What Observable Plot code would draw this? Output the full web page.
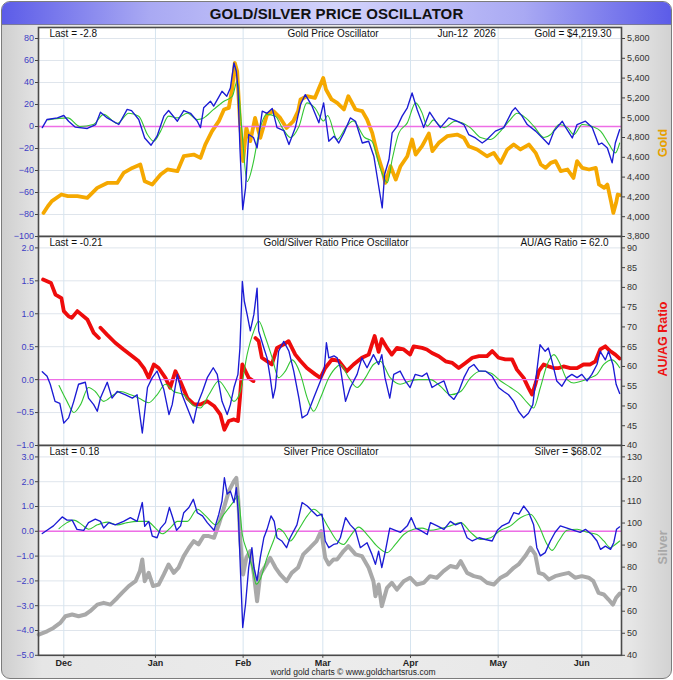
<!DOCTYPE html>
<html>
<head>
<meta charset="utf-8">
<script src="https://cdn.jsdelivr.net/npm/d3@7"></script>
<script src="https://cdn.jsdelivr.net/npm/@observablehq/plot@0.6"></script>
<style>
  html, body { margin: 0; padding: 0; background: #ffffff; }
  #chart { position: relative; width: 673px; height: 680px; font-family: "Liberation Sans", Arial, sans-serif; }
  #outer { position: absolute; left: 1px; top: 1px; width: 669px; height: 676px; border: 1.5px solid #7c7c7c; border-radius: 9px;
    background: linear-gradient(to right, #cfcfcf 0%, #e6e6e6 6%, #ececec 50%, #e6e6e6 94%, #d2d2d2 100%); overflow: hidden; }
  #titlebar { position: absolute; left: 0; top: 0; width: 100%; height: 22px; border-bottom: 1px solid #7a7a9a;
    background: linear-gradient(to right, #5c5ce8 0%, #a9a9f3 22%, #d3d3fb 50%, #a9a9f3 78%, #5c5ce8 100%);
    text-align: center; font-weight: bold; font-size: 15px; line-height: 23px; color: #111; letter-spacing: 0.1px; }
  .panel { position: absolute; left: 0; }
  #caption { position: absolute; top: 667px; left: 0; width: 706px; text-align: center; font-size: 8.5px; color: #222; }
</style>
</head>
<body>
<div id="chart">
  <div id="outer"><div id="titlebar"></div></div>
  <div id="p1" class="panel" style="top:26.5px"></div>
  <div id="p2" class="panel" style="top:235.5px"></div>
  <div id="p3" class="panel" style="top:444.5px"></div>
  <div id="caption"></div>
</div>
<script>
// ---------- text ----------
const chartTitle = "GOLD/SILVER PRICE OSCILLATOR";
const captionText = "world gold charts © www.goldchartsrus.com";
const dateText = "Jun-12\u00a0\u00a02026";
const panelTitles = ["Gold Price Oscillator", "Gold/Silver Ratio Price Oscillator", "Silver Price Oscillator"];
const lastTexts = ["Last = -2.8", "Last = -0.21", "Last = 0.18"];
const valueTexts = ["Gold = $4,219.30", "AU/AG Ratio = 62.0", "Silver = $68.02"];
const axisTitles = ["Gold", "AU/AG Ratio", "Silver"];

// ---------- time axis (trading-day index, 0 = Dec 1 2025) ----------
const monthDays = [0, 23, 45, 65, 87, 109, 130];
const monthLabels = ["Dec", "Jan", "Feb", "Mar", "Apr", "May", "Jun"];

// ---------- tick values ----------
const goldOscTicks = [-100, -80, -60, -40, -20, 0, 20, 40, 60, 80];
const goldPriceTicks = [3800, 4000, 4200, 4400, 4600, 4800, 5000, 5200, 5400, 5600, 5800];
const ratioOscTicks = [-1.0, -0.5, 0.0, 0.5, 1.0, 1.5, 2.0];
const ratioTicks = [40, 45, 50, 55, 60, 65, 70, 75, 80, 85, 90];
const silverOscTicks = [-5, -4, -3, -2, -1, 0, 1, 2, 3];
const silverPriceTicks = [40, 50, 60, 70, 80, 90, 100, 110, 120, 130];

// ---------- series: [trading day, value] ----------
const goldOsc = [[-5.4,-1],[-4.2,6.4],[-1.6,7.8],[0,10],[1.2,4.8],[2.9,-0.6],[5.9,-1.8],[8,1.8],[9.2,13],[10.9,7.8],[13.8,1.8],[15.9,15.5],[17,14.5],[18.8,6.4],[20.3,-10.4],[21.9,-17],[23.4,-8.8],[25.1,9.4],[26.3,14.5],[28.5,4.8],[30.1,14.5],[31.8,12],[33.5,4.8],[34.3,-1],[35.1,17],[36.8,23],[37.6,18.5],[39.7,32],[40.9,27.5],[41.8,35],[42.7,57.8],[43.3,50],[43.7,35],[44.2,-19.5],[44.9,-75.5],[45.6,-56],[46.4,-7.3],[47.6,-10],[48.5,-19.5],[49.8,14],[51,12],[52.3,16.4],[53.5,-1],[55.2,-3.7],[56.5,-16.4],[58.1,-1],[59.4,20],[60.6,29],[62.3,18.5],[64,3.3],[65.2,21.5],[66.5,-13.4],[67.8,-8.8],[69,-15],[70.3,-5.8],[71.9,7.8],[73.2,4.8],[74.9,-15],[76.5,-13.4],[77.8,-27],[78.6,-45],[79.9,-74],[80.5,-43.6],[81.6,-30],[82.4,-5.8],[83.7,0.3],[84.9,9.4],[86.2,17],[87.4,30.5],[88.7,15],[89.9,3.3],[90.3,-1],[91.8,13],[93.3,4.8],[94.5,-1],[96.6,7.8],[98.7,4.8],[100.4,1.8],[101.6,-7.3],[103.3,-10.4],[105,-15],[106.2,-11.8],[108.3,-4.2],[110.4,-1],[112.5,14],[113.3,17],[115,9.4],[116.3,1.8],[118.4,-4.2],[120.5,-11.8],[121.7,-16.4],[123,-4.2],[125.1,4.8],[125.9,-0.6],[127.6,-10.4],[128.8,1.8],[130.9,4.8],[132.6,-1],[134.2,-16.4],[135,-15],[136.4,-19.5],[137.6,-33],[138.4,-15],[139.5,-2.8]];
const goldSignal = [[-4,6],[1,7.8],[4,0],[7.4,1.8],[10,11],[13.4,2.8],[16.3,12],[18.8,9.4],[21,-7.3],[22.6,-13.4],[24.3,-4.2],[26.3,9.4],[28.5,7.8],[31,12],[33.5,6.4],[35.1,7.8],[37.6,15.5],[40.2,23],[42.3,27.5],[43.5,41],[44.7,-4],[46,-50],[47.6,-32],[48.9,-7],[51,11],[53.1,9.4],[54.8,-1],[56.9,-10],[59,0],[61,21.5],[63,17],[65.2,5],[66.2,10],[68.6,-11.8],[71,0.3],[72.6,5],[75.5,-10],[77.3,-13.4],[79.5,-39],[81.2,-51],[82.4,-30],[84.1,-5.8],[86.2,3.3],[88.3,21.5],[89.9,12.4],[91.2,0.3],[92.8,6],[94,1.8],[95.5,-1],[98.2,4.8],[102,-1],[104.6,-10],[107.1,-11.8],[109.6,-4.2],[111.7,4.8],[113.8,12],[115.9,7.8],[118,0],[120.5,-10],[122.2,-7.3],[124.3,1.8],[126.4,-1],[128,-7.3],[130.1,1.8],[132.6,0],[134.7,-4.2],[136.8,-16],[138.4,-24],[139.5,-15]];
const goldPrice = [[-5.1,4038],[-4,4106],[-3,4157],[-0.6,4224],[1,4207],[3.4,4207],[5.9,4190],[8.4,4291],[10.9,4341],[13.4,4341],[15,4442],[17.2,4493],[19.2,4527],[20.3,4358],[22.2,4325],[24.3,4426],[26,4477],[28.5,4460],[30.1,4611],[32.6,4628],[34.3,4594],[35.5,4729],[37.2,4864],[38.9,4965],[40.2,5083],[41.4,5099],[42.3,5301],[42.9,5554],[43.5,5470],[44.2,4965],[45,4561],[45.8,4897],[46.8,4763],[48,4998],[49.3,4796],[51,5032],[52.6,5066],[54.3,4998],[55.9,4897],[57.6,4965],[58.8,5066],[59.4,5184],[61,5217],[63,5200],[65.1,5402],[65.8,5285],[67.2,5184],[68.6,5150],[70.3,5083],[71.4,5217],[73.2,5083],[74.9,5066],[76.1,4982],[77.4,4847],[78.6,4645],[79.9,4477],[80.7,4341],[82,4510],[83.3,4375],[84.5,4510],[86.2,4611],[87.4,4780],[88.3,4628],[89.9,4712],[91.6,4840],[92.5,4662],[94.1,4746],[96.2,4813],[98.7,4830],[100.4,4797],[101.6,4712],[103.7,4679],[106.2,4611],[107.9,4645],[109.6,4544],[111.3,4679],[112.9,4729],[114.6,4679],[116.7,4729],[118.4,4645],[119.7,4527],[120.9,4493],[122.2,4544],[123.4,4561],[124.7,4460],[126.4,4477],[127.9,4392],[128.8,4561],[130.1,4493],[131.8,4477],[133.5,4493],[134.3,4325],[135.6,4291],[136.4,4325],[137.3,4157],[137.9,4038],[138.6,4140],[139,4224],[139.5,4219.3]];

const ratioOsc = [[-5.4,0.12],[-4.2,0.05],[-3.4,-0.07],[-2.2,-0.33],[-1,-0.36],[0,-0.66],[1.2,-0.58],[2.5,-0.33],[3.7,-0.07],[5.4,-0.04],[6.2,-0.28],[7.5,-0.38],[8.4,-0.48],[9.2,-0.28],[10.9,-0.04],[12.1,-0.28],[13.4,-0.18],[15.5,-0.23],[17.2,-0.28],[18.4,-0.23],[19.7,-0.81],[21,-0.12],[22.2,0.03],[23.4,0.13],[24.3,-0.02],[25.1,-0.15],[26.4,-0.53],[27.2,-0.38],[28.5,0.08],[29.7,-0.23],[31,-0.43],[32.5,-0.66],[33.5,-0.38],[34.8,-0.18],[36,0.03],[37.5,0.18],[38.5,0.08],[39.7,-0.33],[41,-0.53],[41.8,-0.38],[42.7,-0.12],[43.7,0.08],[44.2,0.48],[44.8,1.49],[45.3,1.19],[46,0.99],[46.8,0.74],[47.7,0.99],[48.5,1.39],[48.9,0.74],[50.2,0.48],[51,0.33],[51.8,0.03],[52.5,-0.28],[53.1,-0.12],[53.9,0.43],[55.2,0.58],[56.5,0.43],[57.7,0.13],[59,-0.28],[59.8,-0.58],[61.1,-0.53],[62.7,-0.28],[64.4,-0.02],[65.4,0.18],[65.9,0.56],[66.5,0.33],[67.8,0.36],[68.6,0.33],[69.4,0.18],[70.7,-0.33],[71.9,-0.12],[73.6,0.08],[74.8,0.33],[76.1,0.18],[77.7,0.38],[79,0.23],[79.8,0.38],[80.6,0.03],[81.8,-0.28],[82.8,0.08],[84.4,0.13],[85.7,-0.02],[86.9,-0.12],[88.2,0.08],[89.9,0.05],[91.1,0.1],[92.4,-0.12],[93.7,-0.07],[95.4,-0.02],[96.6,-0.23],[97.9,-0.3],[99.1,-0.18],[100.4,0.03],[101.7,0.18],[102.9,0.23],[104.2,0.13],[105.8,0.13],[107.5,0.05],[109.1,-0.12],[110.4,-0.18],[111.6,-0.23],[112.9,-0.33],[114.1,-0.48],[115.4,-0.58],[116.6,-0.51],[117.7,-0.38],[118.7,0.13],[119.5,0.53],[120.8,0.43],[121.6,0.48],[122.5,0.28],[123.7,-0.02],[125,-0.1],[126.3,0.03],[127.5,0.08],[128.8,0.03],[130,0.08],[131.3,-0.02],[132.5,0.08],[133.8,0.23],[134.6,0.43],[135.9,0.3],[136.7,0.43],[137.8,0.23],[138.6,-0.07],[139.5,-0.21]];
const ratioSignal = [[-1.2,-0.09],[0.8,-0.33],[2.5,-0.5],[4.2,-0.38],[6.2,-0.12],[7.9,-0.18],[10,-0.33],[12.5,-0.23],[14.2,-0.18],[16.8,-0.23],[18.8,-0.28],[21.3,-0.35],[23.4,-0.23],[25.5,-0.07],[27.6,-0.18],[30.1,-0.23],[32.2,-0.38],[34.3,-0.43],[36.4,-0.23],[38.9,-0.02],[41,-0.18],[42.7,-0.33],[44.3,-0.18],[46,0.38],[47.7,0.74],[48.9,0.89],[50.6,0.64],[52.3,0.33],[53.9,0.03],[55.6,0.13],[57.3,0.3],[59.4,0.08],[61.1,-0.28],[62.7,-0.48],[64.4,-0.28],[66.5,0.03],[68.6,0.2],[69.4,0.23],[71.5,0.03],[73.6,-0.12],[75.7,0.03],[77.7,0.23],[79.4,0.28],[81.9,0.03],[84.4,-0.07],[86.9,-0.02],[89,0],[92,0],[94.5,-0.1],[97,-0.23],[99.6,-0.18],[102.1,0.03],[104.6,0.13],[107.1,0.1],[109.6,-0.02],[112.1,-0.12],[114.6,-0.23],[116.3,-0.35],[117.9,-0.43],[119.6,-0.12],[121.3,0.23],[123,0.38],[124.6,0.23],[126.3,0],[128,-0.05],[130,-0.02],[132.1,0.03],[133.8,0.08],[135.5,0.23],[137.6,0.3],[139.5,0.18]];
const auAgRatio = [[-5.2,82],[-3.2,81.1],[-2.1,78.2],[-0.6,77.3],[0,74],[1.2,72.7],[2,72.3],[3.4,74],[5.9,71.9],[7.5,68.5],[8.8,67.2],[9,null],[9.2,69.8],[10.9,68],[12.9,66],[15,64.3],[17.2,62.6],[18.8,61.3],[20.1,59.6],[21.3,57.1],[22.6,60.5],[23.8,59.6],[25.5,57.1],[26.7,54.6],[28,58.8],[29.2,56.3],[31,52],[32.7,50.4],[34.3,50.4],[36,51.2],[37.7,50],[39.3,47.8],[40.3,44],[41.4,46.2],[42.7,46.6],[43.7,46.2],[44.2,52],[44.8,60.5],[45.6,58.8],[46.4,57.1],[47.6,56.3],[47.9,null],[48.1,67.2],[48.9,66.4],[49.7,62.2],[50.9,61.4],[52.2,60.5],[53.5,64.7],[55.2,65.6],[56.4,66.4],[58.1,63],[59.4,61.4],[61,59.6],[63.1,58],[64.4,57.1],[65.6,59.6],[67.3,61.8],[69,61.4],[71,58.8],[72.7,60.5],[74.8,62.2],[76.5,63],[78,67.7],[79,63.7],[79.8,66.9],[81.1,64.7],[82.3,63],[83.6,64.7],[85.3,64.3],[86.9,63],[87.8,65.1],[89.9,64.7],[91.1,64.3],[92.4,63.4],[94.1,62.6],[95.8,61.3],[97.5,60.9],[99.1,59.6],[100.8,60.9],[102.5,62.2],[104.2,62.6],[106.2,62.6],[107.5,63.9],[109.1,62.2],[110.8,61.8],[112.5,61.8],[113.7,59.2],[115.4,57.1],[116.6,54.6],[117.5,52.9],[118.3,55.4],[119.2,58.8],[120.4,60.5],[121.7,60],[122.9,59.6],[124.2,59.6],[125.4,60],[127.1,59.6],[128.8,59.6],[130.4,60.5],[132.1,60.5],[133.4,61.3],[134.6,64.3],[135.9,65.1],[137.1,63.9],[138.4,63],[139.5,62]];

const silverOsc = [[-5.4,-0.09],[-4.2,0.04],[-2.6,0.22],[-0.4,0.58],[0.8,0.45],[2.1,0.45],[3.3,0.08],[5,0.04],[6.2,0.35],[7.9,0.49],[9.2,0.4],[10,0.13],[11.3,0.35],[12.9,0.26],[15,0.4],[16.7,0.55],[18.4,0.4],[19.7,1.16],[20.3,0.2],[21.3,0.4],[22.2,-0.19],[23.4,-0.26],[24.3,0.13],[25.5,0.35],[26.5,0.96],[27.2,0.62],[28.3,0.04],[29.3,0.22],[30.1,0.75],[31.4,0.96],[32.5,1.29],[33.5,0.75],[34.8,0.62],[36,0.35],[37.7,0.04],[38.9,0.69],[39.7,1.22],[40.3,2.16],[41,1.5],[41.8,1.62],[42.7,1.16],[43.3,1.76],[43.8,0.69],[44.3,-1.46],[44.9,-3.88],[45.6,-2.94],[46.4,-1.46],[47.2,-0.66],[47.7,-1.46],[48.5,-2],[49.3,-1.06],[50.2,-0.26],[51,0.08],[52,0.62],[52.8,0.4],[53.5,-0.26],[54.7,-0.39],[55.9,-0.66],[56.8,-0.26],[58.5,0.26],[59.8,1.16],[61.1,1.02],[62.3,0.82],[63.6,0.62],[64.8,0.69],[65.6,-0.39],[66.5,-0.66],[67.7,-0.53],[68.6,-0.5],[69.4,-0.26],[70.7,0.55],[71.9,0.26],[73.2,0.04],[74.4,-0.66],[76.1,-0.46],[77.3,-0.92],[78.2,-1.33],[79,-0.8],[79.8,-1.46],[80.7,-0.8],[81.8,0.13],[83.2,0.04],[84.5,-0.04],[86.2,0.22],[87.2,0.55],[88.3,0.13],[89.5,0.04],[91.2,-0.13],[92,0.35],[93.7,0.22],[95.4,0.08],[97,0.4],[98.3,0.26],[99.7,0.35],[101.2,-0.26],[102.5,-0.39],[104.2,-0.26],[105.8,-0.33],[107.5,-0.39],[108.8,0.04],[110,0.22],[111.7,0.35],[112.9,0.75],[114.2,0.69],[115.4,1.02],[116.7,0.75],[117.9,0.26],[118.7,-0.66],[119.6,-0.99],[120.8,-0.86],[122.1,-0.39],[123.3,-0.04],[124.6,0.22],[126.3,0.13],[128,0.04],[129.6,-0.04],[130.9,0.08],[132.5,-0.13],[133.8,-0.39],[134.7,-0.73],[135.9,-0.6],[137.2,-0.73],[138,-0.46],[138.7,0.08],[139.5,0.18]];
const silverSignal = [[-1.2,0.11],[0.8,0.35],[2.5,0.45],[4.6,0.26],[6.2,0.08],[8.4,0.26],[10.9,0.37],[13.4,0.26],[15.9,0.35],[18.4,0.4],[20.9,0.4],[23,0.13],[24.7,-0.1],[26.7,0.13],[28.5,0.4],[31,0.4],[33.5,0.89],[35.6,0.62],[38.1,0.26],[40.2,0.69],[42.7,1.22],[43.7,1.43],[44.8,-0.13],[46,-0.8],[47.2,-1.4],[48.3,-2.13],[49.3,-1.93],[51,-1.06],[52.6,-0.39],[53.9,0.11],[55.2,-0.04],[56.8,-0.39],[58.8,0.04],[61.1,0.62],[62.7,0.89],[64.4,0.69],[66.5,0.13],[68.6,-0.39],[70.2,-0.53],[71.9,-0.19],[74,0.17],[76.1,-0.13],[78.6,-0.6],[81.1,-0.86],[83.2,-0.53],[85.3,-0.13],[87.8,0.08],[89.9,0.13],[92,0.04],[94.5,0.11],[97,0.22],[99.6,0.35],[102.1,-0.04],[104.6,-0.33],[107.1,-0.26],[109.6,0.04],[112.1,0.22],[114.6,0.55],[117.1,0.69],[119.2,0.22],[121.3,-0.53],[122.5,-0.77],[124.2,-0.39],[126.3,0.04],[128.8,0.08],[131.3,-0.04],[133.8,-0.13],[135.5,-0.39],[137.2,-0.66],[138.4,-0.53],[139.5,-0.39]];
const silverPrice = [[-6.3,49.4],[-4.2,50.9],[-2.6,52.4],[-0.9,54.7],[0.4,57.7],[2.1,58.5],[3.7,57.7],[5.4,58.5],[6.6,60],[8.4,63],[10,63.8],[11.7,63],[13.4,66],[14.6,68.3],[16.3,71.4],[18,73.6],[19.1,78.2],[19.7,83.5],[20.3,73.6],[21.3,77.4],[22.4,71.4],[23.8,72.1],[25.1,76.7],[26.3,81.2],[27.6,77.4],[28.8,79.8],[30.1,85],[31.4,88.8],[32.6,91.8],[33.8,90.3],[35.1,94.1],[36.4,94.1],[37.7,93.3],[38.9,99.4],[40.2,107],[41.4,114.5],[42.7,119],[43.3,120.5],[43.8,110],[44.3,91.8],[45,76.7],[45.8,84.2],[46.8,87.3],[47.7,76.7],[48.5,64.5],[49.3,76.7],[50.6,80.5],[51.8,84.2],[53.1,79.8],[54.3,76.7],[55.9,73.6],[57.2,77.4],[58.8,79.8],[60.1,85.8],[61.8,88.8],[63.4,91.8],[64.6,96.4],[65.6,84.2],[66.5,81.2],[67.7,83.5],[68.6,83.5],[70.2,87.3],[71.4,89.5],[73.2,85.8],[74.8,85],[76.5,79.7],[77.7,73.6],[78.2,66.8],[79,72.1],[79.8,62.3],[81.1,70.6],[82.3,72.9],[83.6,69.8],[85.3,73.6],[86.9,75.2],[88.6,72.1],[90.3,72.9],[91.9,75.9],[93.6,75.2],[95.3,78.2],[97,80.5],[98.6,79.8],[99.6,82.7],[101.2,77.4],[102.9,75.9],[104.6,75.2],[106.2,72.9],[107.9,72.1],[109.6,75.2],[111.2,76.7],[112.9,79.7],[114.1,81.2],[115.8,85],[117.1,88.8],[118.3,85.8],[119.2,77.4],[120.4,76.7],[121.7,74.4],[123.3,75.9],[125,76.7],[126.7,77.4],[128.3,75.2],[130,75.9],[131.7,75.2],[132.9,73.6],[134.2,68.3],[135.5,67.6],[136.7,65.3],[137.8,63],[138.6,66.1],[139.5,68]];

// ---------- layout / styling ----------
document.getElementById("titlebar").textContent = chartTitle;
document.getElementById("caption").textContent = captionText;

const FONT = "'Liberation Sans', Arial, sans-serif";
const xDomain = [-6.35, 139.95];
const col = { osc: "#1b1bd4", sig: "#33c633", zero: "#ee6ee6", gold: "#f5a800", ratio: "#ee0c0c", silver: "#a9a9a9", leftTxt: "#3d3dc4" };

// linear map from right-axis units onto the left (oscillator) scale
function linMap(r0, r1, l0, l1) {
  const f = v => l0 + (v - r0) * (l1 - l0) / (r1 - r0);
  f.invert = v => r0 + (v - l0) * (r1 - r0) / (l1 - l0);
  return f;
}

function panel(cfg) {
  const m = cfg.map;
  const ry = d => d[1] == null ? NaN : m(d[1]);
  const marks = [
    Plot.frame({fill: "white", stroke: null}),
    Plot.gridY(cfg.leftTicks, {stroke: "#dfe5ec", strokeOpacity: 1}),
    Plot.gridX(monthDays, {stroke: "#d6e4ef", strokeOpacity: 1}),
    Plot.axisY(cfg.leftTicks, {anchor: "left", tickSize: 3, tickPadding: 1.5, tickFormat: cfg.leftFmt,
      fill: col.leftTxt, stroke: "#444", fontSize: 9, label: null}),
    Plot.axisY(cfg.rightTicks.map(m), {anchor: "right", tickSize: 3, tickPadding: 2.5,
      tickFormat: v => cfg.rightFmt(Math.round(m.invert(v))), fill: "#333", stroke: "#444", fontSize: 9, label: null}),
    Plot.line(cfg.price, {x: d => d[0], y: ry, stroke: cfg.priceColor, strokeWidth: cfg.priceWidth, strokeLinejoin: "round"}),
    Plot.ruleY([0], {stroke: col.zero, strokeWidth: 1.4}),
    Plot.line(cfg.signal, {x: d => d[0], y: d => d[1], stroke: col.sig, strokeWidth: 1.1, curve: "monotone-x"}),
    Plot.line(cfg.osc, {x: d => d[0], y: d => d[1], stroke: col.osc, strokeWidth: 1.35, strokeLinejoin: "round"}),
    Plot.text([cfg.last], {text: d => d, frameAnchor: "top-left", dx: 11, dy: 6.5, textAnchor: "start", lineAnchor: "middle", fontSize: 10, fill: "#111"}),
    Plot.text([cfg.title], {text: d => d, frameAnchor: "top", dx: cfg.titleDx, dy: 6.5, textAnchor: "middle", lineAnchor: "middle", fontSize: 10, fill: "#111"}),
    Plot.text([cfg.value], {text: d => d, frameAnchor: "top-right", dx: cfg.valueDx, dy: 6.5, textAnchor: "end", lineAnchor: "middle", fontSize: 10, fill: "#111"}),
    Plot.text([cfg.axisTitle], {text: d => d, frameAnchor: "right", dx: 41, dy: cfg.axisTitleDy, rotate: -90, textAnchor: "middle", lineAnchor: "middle",
      fill: cfg.axisTitleColor, fontWeight: "bold", fontSize: 12.5})
  ];
  if (cfg.date) marks.push(Plot.text([cfg.date], {text: d => d, frameAnchor: "top-left", dx: 399, dy: 6.5, textAnchor: "start", lineAnchor: "middle", fontSize: 10, fill: "#111"}));
  if (cfg.xAxis) marks.push(Plot.axisX(monthDays, {anchor: "bottom", tickSize: 3, tickPadding: 1.5,
    tickFormat: d => monthLabels[monthDays.indexOf(d)], fill: "#222", stroke: "#444", fontSize: 9, fontWeight: 600, label: null}));
  marks.push(Plot.frame({stroke: "#4a4a4a", strokeWidth: 1.6}));
  return Plot.plot({
    width: 673, height: cfg.height,
    marginLeft: 38, marginRight: 52, marginTop: 0, marginBottom: cfg.marginBottom,
    style: {background: "transparent", overflow: "visible", fontFamily: FONT, fontSize: "10px"},
    x: {domain: xDomain, axis: null},
    y: {domain: cfg.yDomain, axis: null},
    marks
  });
}

const fmtComma = d3.format(",");
document.getElementById("p1").appendChild(panel({
  height: 209, marginBottom: 0, yDomain: [-100, 90],
  leftTicks: goldOscTicks, leftFmt: d3.format("d"),
  rightTicks: goldPriceTicks, rightFmt: fmtComma, map: linMap(3800, 5800, -100, 80),
  price: goldPrice, priceColor: col.gold, priceWidth: 3.8,
  signal: goldSignal, osc: goldOsc,
  last: lastTexts[0], title: panelTitles[0], titleDx: 3, value: valueTexts[0], valueDx: -10, date: dateText,
  axisTitle: axisTitles[0], axisTitleColor: "#e6a000", axisTitleDy: 11
}));
document.getElementById("p2").appendChild(panel({
  height: 209, marginBottom: 0, yDomain: [-1, 2.173],
  leftTicks: ratioOscTicks, leftFmt: d3.format(".1f"),
  rightTicks: ratioTicks, rightFmt: d3.format("d"), map: linMap(40, 90, -1, 2),
  price: auAgRatio, priceColor: col.ratio, priceWidth: 3.8,
  signal: ratioSignal, osc: ratioOsc,
  last: lastTexts[1], title: panelTitles[1], titleDx: 6, value: valueTexts[1], valueDx: -13,
  axisTitle: axisTitles[1], axisTitleColor: "#ee1111", axisTitleDy: -2
}));
document.getElementById("p3").appendChild(panel({
  height: 228, marginBottom: 18.2, yDomain: [-5, 3.46],
  leftTicks: silverOscTicks, leftFmt: d3.format(".1f"),
  rightTicks: silverPriceTicks, rightFmt: d3.format("d"), map: linMap(40, 130, -5, 3),
  price: silverPrice, priceColor: col.silver, priceWidth: 4,
  signal: silverSignal, osc: silverOsc,
  last: lastTexts[2], title: panelTitles[2], titleDx: 1, value: valueTexts[2], valueDx: -20,
  axisTitle: axisTitles[2], axisTitleColor: "#a8a8a8", axisTitleDy: -3, xAxis: true
}));
</script>
</body>
</html>
